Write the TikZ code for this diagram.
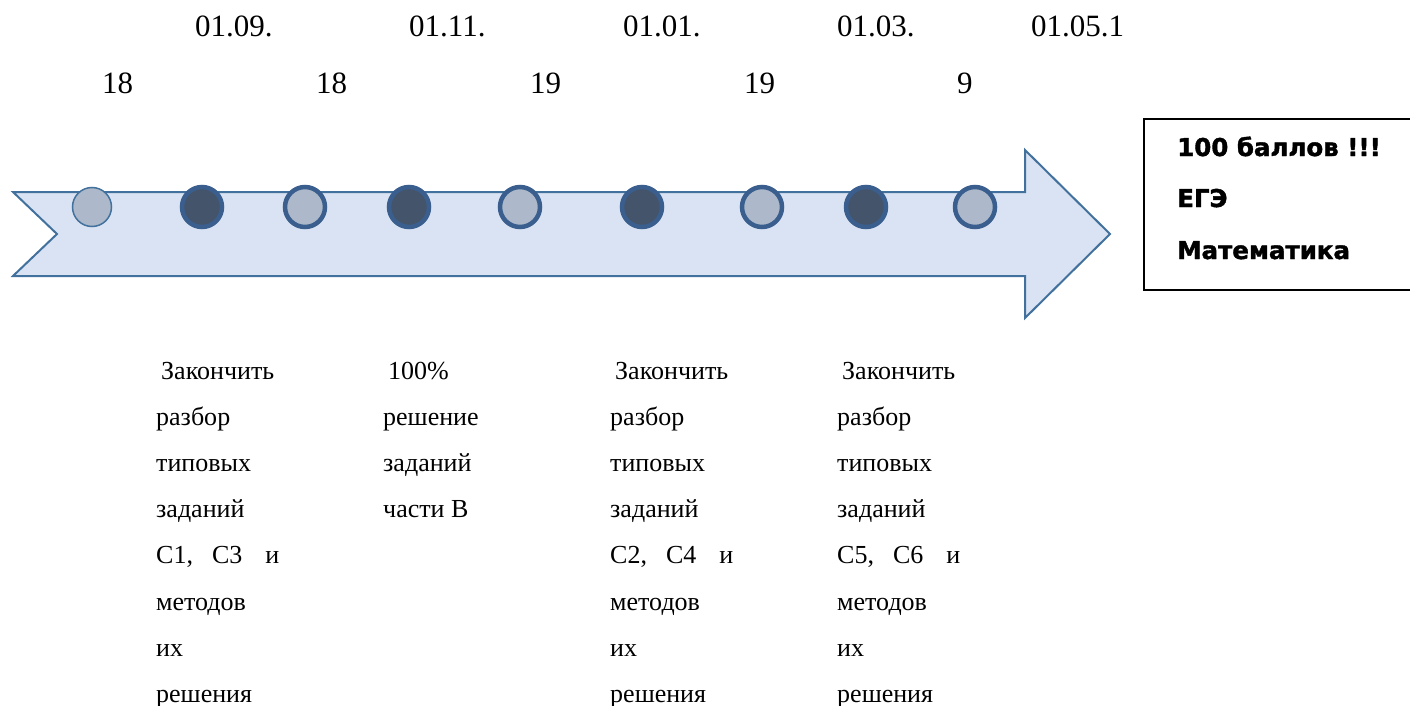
\documentclass[tikz,border=0pt]{standalone}
\usepackage{fontspec}
\setmainfont{Liberation Serif}
\newfontfamily\boxfont{DejaVu Sans}[BoldFeatures={FakeBold=1.6}]
\definecolor{arrowfill}{HTML}{DAE3F3}
\definecolor{arrowline}{HTML}{41719C}
\definecolor{dotline}{HTML}{3A5F8E}
\definecolor{dotlight}{HTML}{ADB9CA}
\definecolor{dotdark}{HTML}{44546A}
\tikzset{
  datetxt/.style={inner sep=0pt, anchor=base west, font=\fontsize{31}{31}\selectfont},
  lowtxt/.style={inner sep=0pt, anchor=base west, font=\fontsize{26}{30}\selectfont},
  boxtxt/.style={inner sep=0pt, anchor=base west, font=\fontsize{24.5}{26}\selectfont\boxfont\bfseries},
  thindot/.style={circle, draw=arrowline, line width=1.5pt, fill=dotlight, minimum size=39pt, inner sep=0pt},
  darkdot/.style={circle, draw=dotline, line width=4.5pt, fill=dotdark, minimum size=40pt, inner sep=0pt},
  lightdot/.style={circle, draw=dotline, line width=4.5pt, fill=dotlight, minimum size=40pt, inner sep=0pt},
}
\begin{document}
\begin{tikzpicture}[x=1pt, y=-1pt]
\useasboundingbox (0,0) rectangle (1410,706);
% arrow
\draw[arrowline, line width=2pt, fill=arrowfill, line join=miter]
  (13,192) -- (1025,192) -- (1025,150) -- (1110,234) -- (1025,318) -- (1025,276)
  -- (13,276) -- (57,234) -- cycle;
% dots
\node[thindot] (d1) at (92,207) {};
\node[darkdot] (d2) at (202,207) {};
\node[lightdot] (d3) at (305,207) {};
\node[darkdot] (d4) at (409,207) {};
\node[lightdot] (d5) at (520,207) {};
\node[darkdot] (d6) at (642,207) {};
\node[lightdot] (d7) at (762,207) {};
\node[darkdot] (d8) at (866,207) {};
\node[lightdot] (d9) at (975,207) {};
% dates
\node[datetxt] (t1) at (195,37) {01.09.};
\node[datetxt] (t2) at (409,37) {01.11.};
\node[datetxt] (t3) at (623,37) {01.01.};
\node[datetxt] (t4) at (837,37) {01.03.};
\node[datetxt] (t5) at (1031,37) {01.05.1};
\node[datetxt] (y1) at (102,94) {18};
\node[datetxt] (y2) at (316,94) {18};
\node[datetxt] (y3) at (530,94) {19};
\node[datetxt] (y4) at (744,94) {19};
\node[datetxt] (y5) at (957,94) {9};
% box
\draw[black, line width=2pt] (1416,119) -- (1144,119) -- (1144,290) -- (1416,290);
\node[boxtxt] (b1) at (1177,156) {100 баллов !!!};
\node[boxtxt] (b2) at (1177,207) {ЕГЭ};
\node[boxtxt] (b3) at (1177,259) {Математика};
% lower text
\foreach \t [count=\i] in {Закончить, разбор, типовых, заданий, {C1,\hspace{19pt}C3\hspace{23pt}и}, методов, их, решения}{
  \node[lowtxt] (a\i) at ({156+(\i==1)*5}, {379+46.2*(\i-1)}) {\t};
}
\foreach \t [count=\i] in {100\%, решение, заданий, части В}{
  \node[lowtxt] (p\i) at ({383+(\i==1)*5}, {379+46.2*(\i-1)}) {\t};
}
\foreach \t [count=\i] in {Закончить, разбор, типовых, заданий, {C2,\hspace{19pt}C4\hspace{23pt}и}, методов, их, решения}{
  \node[lowtxt] (c\i) at ({610+(\i==1)*5}, {379+46.2*(\i-1)}) {\t};
}
\foreach \t [count=\i] in {Закончить, разбор, типовых, заданий, {C5,\hspace{19pt}C6\hspace{23pt}и}, методов, их, решения}{
  \node[lowtxt] (e\i) at ({837+(\i==1)*5}, {379+46.2*(\i-1)}) {\t};
}
\end{tikzpicture}
\end{document}
